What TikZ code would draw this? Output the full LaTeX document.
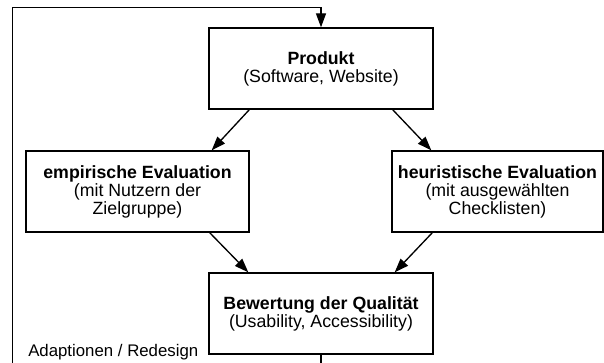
\documentclass[tikz,border=0pt]{standalone}
\usepackage{fontspec}
\setmainfont{Liberation Sans}
\usepackage{tikz}
\usetikzlibrary{arrows.meta, calc, positioning}
\tikzset{
	stufe/.style={draw, line width=1pt, rectangle, minimum width=168pt, minimum height=60.75pt, align=center, inner sep=0pt, font=\fontsize{13.3}{13.5}\selectfont},
	pfeil/.style={line width=1pt, -{Triangle[length=10.5pt, width=7.5pt]}}
}
\begin{document}
		\begin{tikzpicture}[x=0.75pt, y=-0.75pt]
			\useasboundingbox (0,0) rectangle (604,363);
			% Boxes
			\node[stufe] (prod) at (321,68.5) {\textbf{Produkt}\\(Software, Website)};
			\node[stufe, minimum width=167.25pt] (emp) at (137.5,191.5) {\textbf{empirische Evaluation}\\(mit Nutzern der\\Zielgruppe)};
			\node[stufe, minimum width=158.25pt] (heur) at (497.5,191.5) {\textbf{heuristische Evaluation}\\(mit ausgew\"ahlten\\Checklisten)};
			\node[stufe] (bew) at (321,313.5) {\textbf{Bewertung der Qualit\"at}\\(Usability, Accessibility)};
			
			% Arrows
			\draw[pfeil] ($(prod.south west)+(41,0)$) -- ($(emp.north east)+(-38,0)$);
			\draw[pfeil] ($(prod.south east)+(-41,0)$) -- ($(heur.north west)+(40,0)$);
			\draw[pfeil] ($(emp.south east)+(-40,0)$) -- ($(bew.north west)+(40,0)$);
			\draw[pfeil] ($(heur.south west)+(41,0)$) -- ($(bew.north east)+(-39,0)$);
			
			% Feedback loop
			\coordinate (loopbr) at (321,363);
			\coordinate (loopbl) at (12.5,363);
			\coordinate (looptl) at (12.5,7.5);
			\draw[line width=1pt] (bew.south) -- (loopbr);
			\draw[pfeil] (loopbl) -- (looptl) -| (prod.north);
			\node[anchor=base west, inner sep=0pt, font=\fontsize{12.6}{13.5}\selectfont] (adapt) at (28,357) {Adaptionen / Redesign};
		\end{tikzpicture}
\end{document}
